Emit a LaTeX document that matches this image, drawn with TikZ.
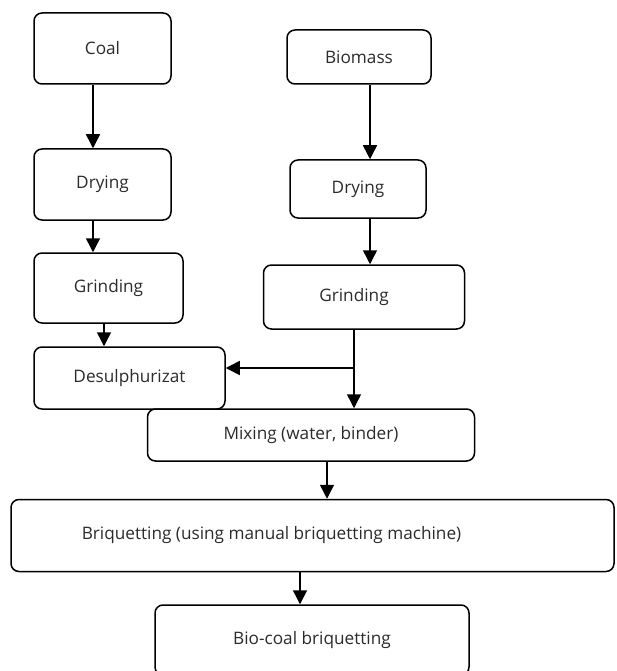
\documentclass[tikz,border=0pt]{standalone}
\usepackage{fontspec}
\setmainfont{Open Sans}
\usetikzlibrary{arrows.meta}
\definecolor{txt}{HTML}{2B2B2B}
\tikzset{
  box/.style={draw=black, line width=1.5pt, rounded corners=8pt, inner sep=0pt,
    font=\fontsize{17.2}{20}\selectfont, text=txt},
  lbl/.style={font=\fontsize{17.2}{20}\selectfont, text=txt, inner sep=0pt},
  arr/.style={draw=black, line width=1.5pt, -{Triangle[length=14pt,width=14pt]}}
}
\begin{document}
\begin{tikzpicture}[x=1pt,y=-1pt]
\useasboundingbox (0,0) rectangle (616,671);
\clip (0,0) rectangle (616,671);
\node[box, minimum width=137pt, minimum height=71pt] (coal) at (102.5,48.5) {Coal};
\node[box, minimum width=137pt, minimum height=71pt] (dry1) at (102.5,184.5) {Drying};
\node[box, minimum width=149pt, minimum height=70pt] (gr1) at (108.5,288) {Grinding};
\node[box, minimum width=191pt, minimum height=62pt] (des) at (129.5,378) {Desulphurizat};
\node[box, minimum width=144pt, minimum height=54pt] (bio) at (359,57) {Biomass};
\node[box, minimum width=136pt, minimum height=58pt] (dry2) at (358,189) {Drying};
\node[box, minimum width=201pt, minimum height=64pt] (gr2) at (364,297) {};
\node[lbl] (gr2t) at (354,297) {Grinding};
\node[box, minimum width=327pt, minimum height=52pt] (mix) at (311,435) {Mixing (water, binder)};
\node[box, minimum width=603pt, minimum height=72pt] (briq) at (312.5,535.5) {};
\node[lbl] (briqt) at (271.5,535.5) {Briquetting (using manual briquetting machine)};
\node[box, minimum width=314pt, minimum height=70pt] (bc) at (312,640) {Bio-coal briquetting};
% arrows
\draw[arr] ([xshift=-9.5pt]coal.south) -- ([xshift=-9.5pt]dry1.north);
\draw[arr] ([xshift=-9.5pt]dry1.south) -- ([xshift=-15.5pt]gr1.north);
\draw[arr] ([xshift=-4.5pt]gr1.south) -- ([xshift=-25.5pt]des.north);
\draw[arr] ([xshift=11pt]bio.south) -- ([xshift=12pt]dry2.north);
\draw[arr] ([xshift=12pt]dry2.south) -- ([xshift=6pt]gr2.north);
\draw[arr] ([xshift=-10pt]gr2.south) -- ([xshift=43pt]mix.north);
\coordinate (br) at (354,368);
\draw[arr] (br) -- (br -| des.east);
\draw[arr] ([xshift=16pt]mix.south) -- ([xshift=14.5pt]briq.north);
\draw[arr] ([xshift=-12.5pt]briq.south) -- ([xshift=-12pt]bc.north);
\end{tikzpicture}
\end{document}
